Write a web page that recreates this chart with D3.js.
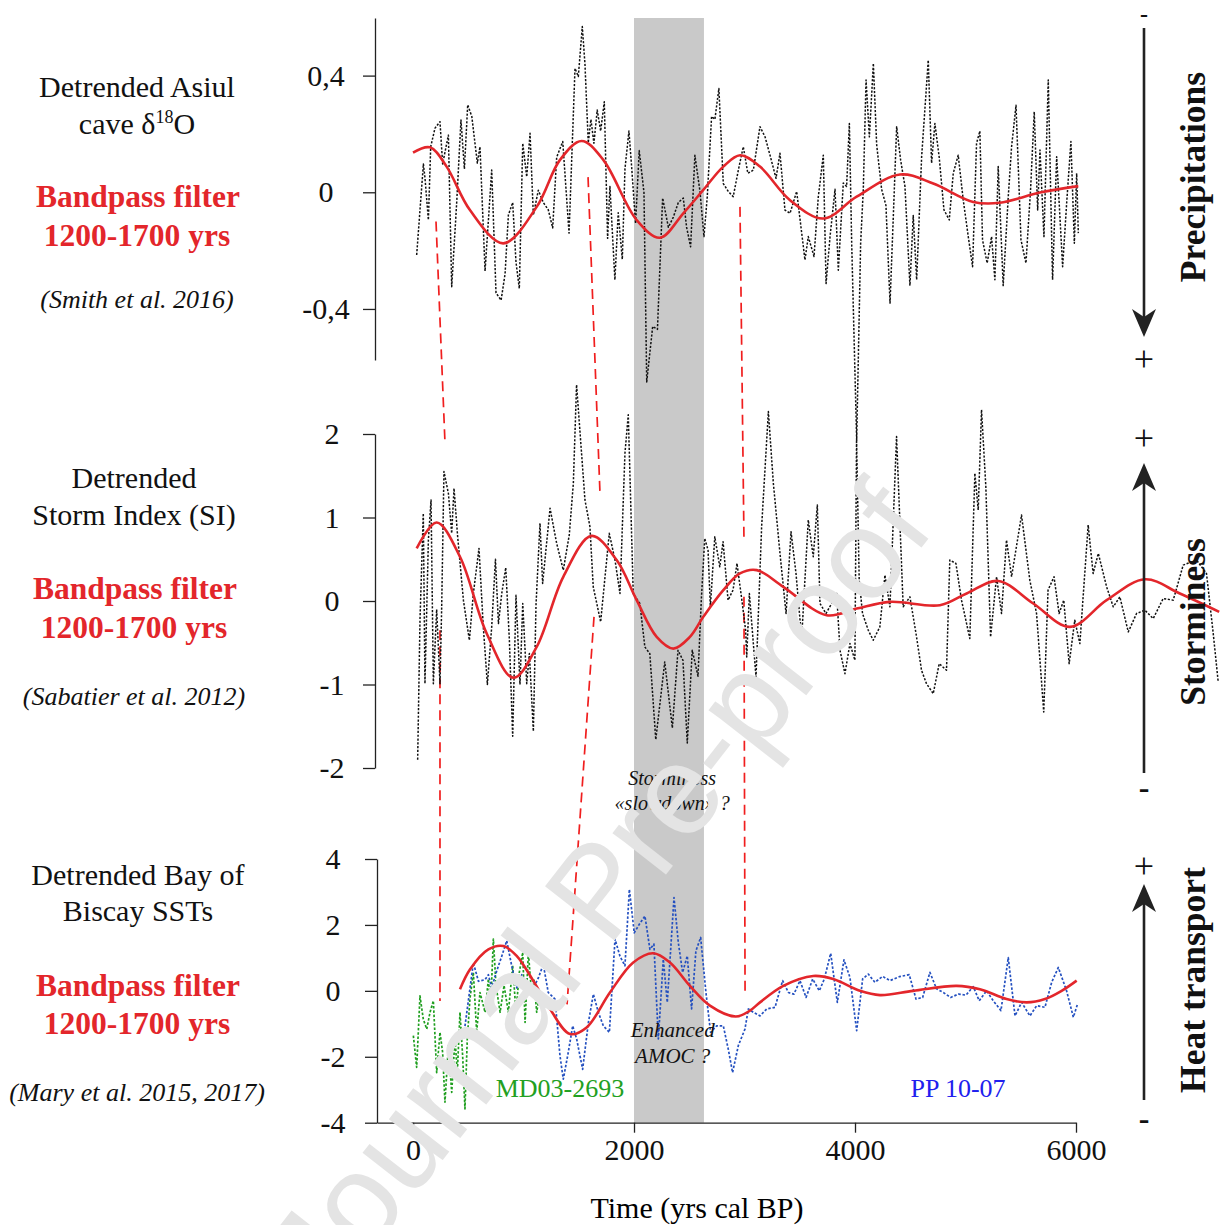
<!DOCTYPE html>
<html>
<head>
<meta charset="utf-8">
<script src="https://cdn.jsdelivr.net/npm/d3@7"></script>
<style>
  body { margin: 0; background: #fff; }
  svg { display: block; }
</style>
</head>
<body>
<svg id="chart" width="1220" height="1225"></svg>
<script>
// ---- data (years cal BP, detrended values) ----
var asiulData = [[33,-0.215],[94,0.097],[108,0.05],[139,-0.095],[160,0.156],[199,0.22],[244,0.242],[268,0.097],[320,0.196],[350,-0.324],[395,-0.037],[434,0.248],[465,0.08],[495,0.3],[532,0.26],[582,0.1],[606,0.156],[652,-0.27],[712,0.076],[751,-0.345],[797,-0.37],[833,-0.28],[863,-0.078],[902,-0.035],[932,-0.24],[962,-0.33],[993,0.168],[1029,0.053],[1059,0.202],[1089,-0.078],[1134,0.007],[1179,-0.035],[1224,-0.06],[1264,-0.122],[1300,0.12],[1355,0.174],[1412,-0.14],[1466,0.425],[1496,0.397],[1532,0.568],[1556,0.44],[1586,0.17],[1610,0.25],[1637,0.168],[1667,0.282],[1698,0.21],[1731,0.31],[1761,-0.158],[1782,0.02],[1827,-0.3],[1857,-0.07],[1894,-0.23],[1918,0.08],[1954,0.21],[1978,0.09],[2014,-0.107],[2047,0.143],[2090,0.0],[2115,-0.65],[2169,-0.46],[2212,-0.47],[2259,-0.02],[2311,-0.12],[2356,-0.085],[2401,-0.035],[2446,-0.02],[2476,-0.12],[2512,-0.187],[2551,0.127],[2597,0.003],[2633,-0.152],[2663,-0.015],[2702,0.26],[2732,0.25],[2768,0.356],[2808,0.03],[2853,0.003],[2898,-0.015],[2944,0.076],[2989,0.156],[3030,0.065],[3080,0.076],[3140,0.225],[3186,0.19],[3231,0.127],[3285,0.048],[3321,0.134],[3366,-0.061],[3412,-0.072],[3472,0.003],[3547,-0.232],[3577,-0.152],[3629,-0.22],[3668,-0.015],[3713,0.127],[3738,-0.313],[3774,-0.152],[3819,0.01],[3849,-0.267],[3894,0.032],[3924,0.02],[3949,0.236],[3970,-0.175],[4015,-0.85],[4051,-0.175],[4075,0.01],[4100,0.385],[4130,0.19],[4166,0.442],[4196,0.163],[4241,0.01],[4280,-0.045],[4317,-0.38],[4347,-0.08],[4377,0.225],[4413,0.11],[4452,0.02],[4497,-0.32],[4527,-0.08],[4558,-0.3],[4603,0.122],[4663,0.453],[4693,0.1],[4723,0.236],[4762,0.12],[4805,-0.06],[4853,-0.095],[4889,0.065],[4934,0.127],[4979,-0.025],[5025,-0.152],[5064,-0.255],[5100,0.168],[5130,0.21],[5154,-0.163],[5196,-0.243],[5236,-0.152],[5266,-0.3],[5296,0.088],[5341,-0.32],[5387,-0.015],[5417,0.156],[5457,0.298],[5502,-0.163],[5547,-0.243],[5589,0.01],[5622,0.276],[5653,-0.061],[5674,0.145],[5710,-0.152],[5749,0.385],[5788,-0.3],[5825,0.122],[5879,-0.255],[5915,-0.04],[5954,0.174],[5985,-0.175],[6006,0.065],[6021,-0.14]];

var asiulFilter = [[0,0.136],[153,0.154],[304,0.088],[515,-0.061],[817,-0.175],[1119,-0.05],[1330,0.111],[1526,0.176],[1722,0.111],[2024,-0.095],[2235,-0.156],[2446,-0.072],[2627,0.008],[2808,0.088],[2960,0.127],[3140,0.088],[3412,-0.027],[3713,-0.09],[4015,-0.015],[4407,0.061],[4708,0.03],[5070,-0.033],[5311,-0.036],[5674,-0.001],[6021,0.021]];

var stormData = [[42,-1.9],[63,-0.23],[93,1.05],[108,-0.99],[139,0.73],[163,1.21],[184,-0.99],[214,-0.1],[244,-0.99],[259,-0.1],[280,1.55],[320,1.29],[350,0.81],[371,1.35],[404,0.77],[456,0.01],[510,-0.47],[546,0.09],[597,0.63],[636,-0.31],[673,-1.0],[712,-0.31],[746,0.5],[773,-0.27],[803,0.09],[839,0.4],[872,-0.47],[902,-1.62],[932,0.07],[968,-1.0],[993,-0.03],[1029,-0.99],[1053,-0.63],[1089,-1.56],[1113,-0.05],[1149,0.93],[1173,0.21],[1240,1.11],[1300,0.69],[1360,0.37],[1414,0.79],[1451,1.41],[1480,2.59],[1556,1.21],[1601,0.89],[1631,0.17],[1698,-0.25],[1776,0.81],[1828,0.49],[1873,0.09],[1918,1.77],[1948,2.23],[1993,0.09],[2053,-0.03],[2098,-0.55],[2143,-0.63],[2197,-1.66],[2278,-0.73],[2347,-1.52],[2398,-0.59],[2443,-0.71],[2482,-1.7],[2527,-0.59],[2579,-0.9],[2609,0.01],[2640,0.75],[2670,0.61],[2691,-0.07],[2731,0.77],[2776,0.41],[2806,0.71],[2851,0.01],[2896,0.13],[2932,0.45],[2980,-0.03],[3010,-0.35],[3020,-0.67],[3044,0.09],[3104,-0.91],[3155,0.89],[3216,2.27],[3261,1.41],[3321,0.57],[3376,-0.15],[3421,0.83],[3466,0.33],[3517,-0.45],[3577,0.97],[3622,0.53],[3659,1.15],[3683,-0.03],[3737,-0.15],[3789,-0.03],[3834,0.09],[3864,-0.59],[3909,-0.87],[3954,-0.51],[3999,-0.71],[4014,1.93],[4038,0.25],[4068,-0.15],[4120,-0.35],[4165,-0.47],[4225,-0.31],[4271,0.31],[4316,-0.07],[4376,1.97],[4436,-0.07],[4497,0.05],[4557,-0.43],[4602,-0.83],[4647,-0.99],[4708,-1.11],[4762,-0.75],[4828,-0.83],[4858,0.49],[4913,0.45],[4964,0.01],[5039,-0.45],[5085,1.53],[5115,1.09],[5145,2.29],[5184,1.37],[5227,-0.43],[5281,0.29],[5326,-0.15],[5371,0.73],[5417,0.29],[5507,1.03],[5582,0.25],[5643,-0.15],[5708,-1.33],[5747,0.13],[5801,0.29],[5847,-0.15],[5889,0.01],[5938,-0.75],[5989,-0.23],[6035,-0.51],[6110,0.91],[6155,0.33],[6202,0.57],[6277,0.17],[6337,-0.07],[6397,0.05],[6473,-0.37],[6548,-0.15],[6623,-0.11],[6699,-0.21],[6789,0.03],[6880,0.01],[6970,0.43],[7091,0.49],[7181,0.33],[7242,-0.39],[7287,-0.97]];

var stormFilter = [[33,0.63],[214,0.94],[425,0.53],[667,-0.39],[908,-0.92],[1119,-0.55],[1360,0.29],[1616,0.78],[1843,0.49],[2024,0.01],[2205,-0.43],[2356,-0.57],[2506,-0.43],[2627,-0.19],[2808,0.13],[2959,0.33],[3110,0.37],[3351,0.17],[3743,-0.17],[4015,-0.09],[4316,-0.01],[4768,-0.05],[5010,0.09],[5296,0.24],[5613,-0.03],[5945,-0.31],[6277,0.01],[6623,0.26],[6940,0.09],[7296,-0.13]];

var mdData = [[3,-1.36],[33,-2.32],[63,-0.15],[93,-0.86],[124,-1.16],[154,-0.65],[184,-0.3],[214,-2.48],[244,-1.26],[268,-1.87],[289,-3.38],[320,-1.66],[350,-3.08],[380,-1.46],[401,-2.48],[425,-0.65],[449,-1.97],[470,-3.58],[491,-1.46],[515,-0.25],[546,0.56],[576,-1.26],[606,-0.05],[652,-0.65],[682,0.36],[703,-0.45],[727,1.57],[751,0.16],[788,-0.65],[824,0.16],[863,-0.65],[902,0.76],[932,-0.65],[962,0.56],[993,1.17],[1014,-0.96],[1044,1.17],[1074,-0.15],[1095,0.36],[1119,-0.65],[1149,-0.05],[1179,-0.2],[1210,-0.15]];

var ppData = [[455,-1.46],[546,0.85],[592,0.29],[652,0.34],[682,0.49],[712,0.09],[757,0.6],[803,1.05],[848,1.52],[893,0.76],[938,0.09],[984,0.49],[1029,0.19],[1089,0.09],[1134,0.39],[1179,0.8],[1224,-0.05],[1285,-0.25],[1330,-1.97],[1360,-2.68],[1405,-1.87],[1445,-1.06],[1481,-1.46],[1535,-2.38],[1587,-0.96],[1632,-0.1],[1677,-0.65],[1722,-1.06],[1777,-1.26],[1828,1.57],[1873,1.05],[1918,0.76],[1958,3.08],[2002,1.76],[2048,2.02],[2099,2.27],[2144,1.26],[2180,1.42],[2220,-1.46],[2265,0.96],[2301,-0.35],[2362,2.83],[2401,1.46],[2440,0.56],[2482,1.06],[2521,-0.55],[2560,1.21],[2603,1.62],[2651,-0.05],[2693,-1.26],[2748,-1.06],[2808,-1.06],[2853,-1.77],[2892,-2.48],[2944,-1.66],[3004,-1.16],[3035,-0.55],[3080,-0.65],[3140,-0.76],[3201,-0.55],[3276,-0.5],[3345,0.31],[3397,-0.05],[3447,-0.1],[3502,0.31],[3557,-0.2],[3617,0.36],[3677,0.0],[3722,0.36],[3780,1.14],[3840,-0.35],[3900,0.94],[3954,0.41],[4015,-1.21],[4069,0.36],[4120,0.51],[4180,0.26],[4250,0.44],[4316,0.31],[4401,0.43],[4491,0.49],[4552,-0.25],[4612,-0.2],[4678,0.56],[4738,0.06],[4799,-0.05],[4866,-0.2],[4935,-0.1],[5004,-0.13],[5070,0.13],[5124,-0.3],[5191,0.0],[5251,-0.3],[5321,-0.6],[5387,1.01],[5448,-0.76],[5508,-0.35],[5583,-0.76],[5644,-0.45],[5719,-0.5],[5780,0.26],[5840,0.71],[5915,0.0],[5976,-0.8],[6012,-0.42]];

var sstFilter = [[425,0.05],[515,0.65],[682,1.26],[818,1.36],[938,1.06],[1089,0.3],[1240,-0.55],[1421,-1.31],[1571,-1.11],[1782,-0.05],[1993,0.86],[2174,1.14],[2325,0.86],[2506,0.15],[2687,-0.45],[2920,-0.78],[3049,-0.6],[3140,-0.35],[3351,0.15],[3622,0.45],[3803,0.36],[4045,0.0],[4226,-0.13],[4527,0.0],[4919,0.15],[5130,0.05],[5372,-0.25],[5553,-0.35],[5719,-0.25],[5870,0.0],[6006,0.31]];

// shaded interval (yrs)
var bandYears = [2000, 2633];

// correlation links: [year, panel index, value]
var links = [
  [[208,0,-0.10],[290,1,1.87]],
  [[244,1,-0.35],[244,2,-0.31]],
  [[1584,0,0.052],[1692,1,1.29]],
  [[1638,1,-0.19],[1394,2,-0.41]],
  [[2959,0,-0.05],[2995,1,0.75]],
  [[2995,1,0.05],[3005,2,-0.04]]
];

var xTicks = [0, 2000, 4000, 6000];
var y1Ticks = [-0.4, 0, 0.4];
var y2Ticks = [-2, -1, 0, 1, 2];
var y3Ticks = [-4, -2, 0, 2, 4];

// ---- setup ----
var svg = d3.select("#chart");
var serif = "'Liberation Serif', 'Times New Roman', serif";
var red = "#e3262b";

var x = d3.scaleLinear().domain([-326, 6000]).range([377, 1076]);
var y1 = d3.scaleLinear().domain([-0.575, 0.5975]).range([360, 18]);
var y2 = d3.scaleLinear().domain([-2, 2]).range([768, 434]);
var y3 = d3.scaleLinear().domain([-4, 4]).range([1122.7, 859]);
var ys = [y1, y2, y3];

// grey band
svg.append("rect")
  .attr("x", x(bandYears[0]))
  .attr("y", y1.range()[1])
  .attr("width", x(bandYears[1]) - x(bandYears[0]))
  .attr("height", y3.range()[0] - y1.range()[1])
  .attr("fill", "#c9c9c9");

// red dashed links
links.forEach(function(l) {
  svg.append("line")
    .attr("x1", x(l[0][0])).attr("y1", ys[l[0][1]](l[0][2]))
    .attr("x2", x(l[1][0])).attr("y2", ys[l[1][1]](l[1][2]))
    .attr("stroke", "#f01e1e")
    .attr("stroke-width", 1.7)
    .attr("stroke-dasharray", "10,6");
});

function yAxis(scale, xpos, ticks, fmt, labelX) {
  var g = svg.append("g")
    .attr("transform", "translate(" + xpos + ",0)")
    .call(d3.axisLeft(scale).tickValues(ticks).tickSize(12).tickSizeOuter(0).tickFormat(fmt));
  g.select(".domain").attr("stroke", "#222").attr("stroke-width", 1.3);
  g.selectAll(".tick line").attr("stroke", "#222").attr("stroke-width", 1.3);
  g.selectAll(".tick text")
    .attr("x", labelX)
    .attr("text-anchor", "middle")
    .attr("font-size", 30)
    .attr("font-family", serif)
    .attr("fill", "#111");
}

yAxis(y1, 375, y1Ticks, function(d) { return d === 0 ? "0" : (d < 0 ? "-" : "") + Math.abs(d).toFixed(1).replace(".", ","); }, -49);
yAxis(y2, 375, y2Ticks, function(d) { return (d < 0 ? "-" : "") + Math.abs(d); }, -43);
yAxis(y3, 377, y3Ticks, function(d) { return (d < 0 ? "-" : "") + Math.abs(d); }, -44);

var xg = svg.append("g")
  .attr("transform", "translate(0," + y3.range()[0] + ")")
  .call(d3.axisBottom(x).tickValues(xTicks).tickSize(10).tickPadding(6).tickSizeOuter(0).tickFormat(d3.format("d")));
xg.select(".domain").attr("stroke", "#222").attr("stroke-width", 1.3);
xg.selectAll(".tick line").attr("stroke", "#222").attr("stroke-width", 1.3);
xg.selectAll(".tick text").attr("font-size", 30).attr("font-family", serif).attr("fill", "#111");

svg.append("text")
  .attr("x", 697).attr("y", 1218)
  .attr("text-anchor", "middle")
  .attr("font-size", 30).attr("font-family", serif)
  .text("Time (yrs cal BP)");

// ---- series ----
function drawLine(data, y, color, width, dash, curve) {
  var line = d3.line().x(function(d) { return x(d[0]); }).y(function(d) { return y(d[1]); });
  if (curve) line.curve(curve);
  svg.append("path")
    .datum(data)
    .attr("d", line)
    .attr("fill", "none")
    .attr("stroke", color)
    .attr("stroke-width", width)
    .attr("stroke-dasharray", dash)
    .attr("stroke-linejoin", "round");
}

drawLine(asiulData, y1, "#111", 1.5, "2.2,1.6");
drawLine(asiulFilter, y1, red, 2.6, null, d3.curveCatmullRom);

drawLine(stormData, y2, "#111", 1.5, "2.2,1.6");
drawLine(stormFilter, y2, red, 2.6, null, d3.curveCatmullRom);

drawLine(mdData, y3, "#1f9e1f", 1.7, "2.5,1.8");
drawLine(ppData, y3, "#2450c0", 1.7, "2.5,1.8");
drawLine(sstFilter, y3, red, 2.6, null, d3.curveCatmullRom);

// ---- annotations ----
function txt(xp, yp, s, size, opts) {
  opts = opts || {};
  return svg.append("text")
    .attr("x", xp).attr("y", yp)
    .attr("text-anchor", "middle")
    .attr("font-size", size)
    .attr("font-family", serif)
    .attr("font-weight", opts.bold ? "bold" : null)
    .attr("font-style", opts.italic ? "italic" : null)
    .attr("fill", opts.fill || "#111")
    .text(s);
}

// left labels
txt(137, 97, "Detrended Asiul", 30);
var cave = txt(137, 134, "cave \u03b4", 30);
cave.append("tspan").attr("font-size", 18).attr("dy", -11).text("18");
cave.append("tspan").attr("dy", 11).text("O");
txt(138, 207, "Bandpass filter", 31.5, {bold: true, fill: red});
txt(137, 246, "1200-1700 yrs", 31.5, {bold: true, fill: red});
txt(137, 308, "(Smith et al. 2016)", 26, {italic: true});

txt(134, 488, "Detrended", 30);
txt(134, 525, "Storm Index (SI)", 30);
txt(135, 599, "Bandpass filter", 31.5, {bold: true, fill: red});
txt(134, 638, "1200-1700 yrs", 31.5, {bold: true, fill: red});
txt(134, 705, "(Sabatier et al. 2012)", 26, {italic: true});

txt(138, 885, "Detrended Bay of", 30);
txt(138, 921, "Biscay SSTs", 30);
txt(138, 996, "Bandpass filter", 31.5, {bold: true, fill: red});
txt(137, 1034, "1200-1700 yrs", 31.5, {bold: true, fill: red});
txt(137, 1101, "(Mary et al. 2015, 2017)", 26, {italic: true});

// in-plot notes
txt(x(2345), 785, "Storminess", 20, {italic: true});
txt(x(2345), 810, "\u00abslowdown\u00bb ?", 20, {italic: true});
txt(x(2350), 1037, "Enhanced", 21, {italic: true});
txt(x(2350), 1063, "AMOC ?", 21, {italic: true});
txt(560, 1097, "MD03-2693", 26, {fill: "#22a022"});
txt(958, 1097, "PP 10-07", 26, {fill: "#2020ee"});

// right arrows
var ax = 1144;
function arrow(yFrom, yTip, dir) {
  svg.append("line")
    .attr("x1", ax).attr("x2", ax)
    .attr("y1", yFrom).attr("y2", yTip - dir * 12)
    .attr("stroke", "#222").attr("stroke-width", 2.6);
  var s = dir; // +1 pointing down, -1 pointing up
  svg.append("path")
    .attr("d", "M" + ax + "," + yTip +
      "L" + (ax + 12) + "," + (yTip - s * 28) +
      "L" + ax + "," + (yTip - s * 20) +
      "L" + (ax - 12) + "," + (yTip - s * 28) + "Z")
    .attr("fill", "#222");
}
arrow(28, 337, 1);
arrow(773, 463, -1);
arrow(1100, 884, -1);

txt(ax, 22, "-", 24, {bold: true});
txt(ax, 371, "+", 36);
txt(ax, 450, "+", 36);
txt(ax, 798, "-", 32, {bold: true});
txt(ax, 878, "+", 36);
txt(ax, 1129, "-", 32, {bold: true});

function vlabel(cy, s) {
  svg.append("text")
    .attr("transform", "translate(1193," + cy + ") rotate(-90)")
    .attr("text-anchor", "middle")
    .attr("dominant-baseline", "central")
    .attr("font-size", 35.5)
    .attr("font-weight", "bold")
    .attr("font-family", serif)
    .attr("fill", "#111")
    .text(s);
}
vlabel(177, "Precipitations");
vlabel(622, "Storminess");
vlabel(980, "Heat transport");

// watermark
svg.append("text")
  .attr("transform", "translate(632,918) rotate(-52)")
  .attr("text-anchor", "middle")
  .attr("font-size", 128)
  .attr("font-family", "'Liberation Sans', Arial, sans-serif")
  .attr("fill", "#e4e4e4")
  .text("Journal Pre-proof");
</script>
</body>
</html>
